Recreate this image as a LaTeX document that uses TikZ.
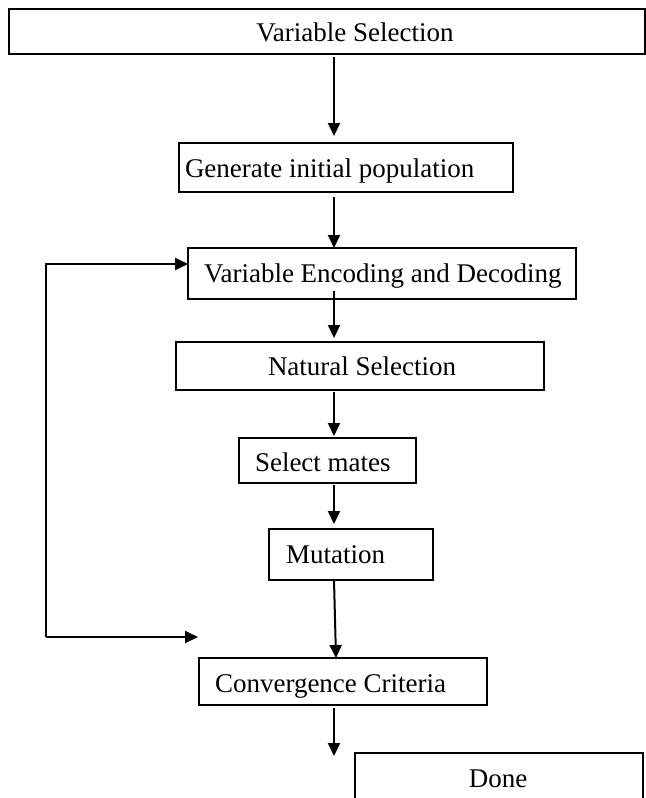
\documentclass[tikz,border=0pt]{standalone}
\usepackage{fontspec}
\setmainfont{Liberation Serif}
\usetikzlibrary{arrows.meta}
\begin{document}
\begin{tikzpicture}[x=1bp,y=-1bp,
  box/.style={draw=black,line width=1.6bp,rectangle,inner sep=0pt,outer sep=0pt},
  txt/.style={inner sep=0pt,outer sep=0pt,anchor=base west,font=\fontsize{27bp}{31bp}\selectfont},
  arr/.style={line width=2bp,-{Triangle[length=13bp,width=12bp]}},
  fline/.style={line width=2bp}]
\useasboundingbox (0,0) rectangle (646,798);
\begin{scope}
\clip (0,0) rectangle (646,798);
% boxes
\node[box,minimum width=636bp,minimum height=45bp] (vs) at (327,31.5) {};
\node[box,minimum width=334bp,minimum height=49bp] (gen) at (346,167.5) {};
\node[box,minimum width=388bp,minimum height=51bp] (enc) at (382,273.5) {};
\node[box,minimum width=368bp,minimum height=48bp] (nat) at (360,366) {};
\node[box,minimum width=177bp,minimum height=45bp] (sel) at (327.5,460.5) {};
\node[box,minimum width=164bp,minimum height=51bp] (mut) at (351,554.5) {};
\node[box,minimum width=288bp,minimum height=47bp] (conv) at (343,681.5) {};
\node[box,minimum width=288bp,minimum height=60bp] (done) at (499,783) {};
\end{scope}
% texts
\node[txt,anchor=base] (tvs) at (355,42) {Variable Selection};
\node[txt] (tgen) at (185,177) {Generate initial population};
\node[txt] (tenc) at (204,282) {Variable Encoding and Decoding};
\node[txt] (tnat) at (268,375) {Natural Selection};
\node[txt] (tsel) at (255,471) {Select mates};
\node[txt] (tmut) at (286,563) {Mutation};
\node[txt] (tconv) at (215,692) {Convergence Criteria};
\node[txt,anchor=base] (tdone) at (498,787) {Done};
% spine and connectors
\coordinate (sp) at (334,0);
\draw[arr] ([yshift=-3bp]vs.south -| sp) -- ([yshift=7bp]gen.north -| sp);
\draw[arr] ([yshift=-5bp]gen.south -| sp) -- (enc.north -| sp);
\draw[arr] ([yshift=8bp]enc.south -| sp) -- ([yshift=4bp]nat.north -| sp);
\draw[arr] ([yshift=-2bp]nat.south -| sp) -- ([yshift=2bp]sel.north -| sp);
\draw[arr] ([yshift=-2bp]sel.south -| sp) -- ([yshift=5bp]mut.north -| sp);
\draw[arr] (mut.south -| sp) -- ([xshift=2bp]conv.north -| sp);
\coordinate (endd) at (334,756);
\draw[arr] ([yshift=-3bp]conv.south -| sp) -- (endd);
% feedback loop
\coordinate (fbL) at (46,264);
\coordinate (fbB) at (46,637);
\coordinate (fbEnd) at (198,637);
\draw[arr] (fbB) -- (fbL) -- (fbL -| enc.west);
\draw[arr] (fbB) -- (fbEnd);
\end{tikzpicture}
\end{document}
